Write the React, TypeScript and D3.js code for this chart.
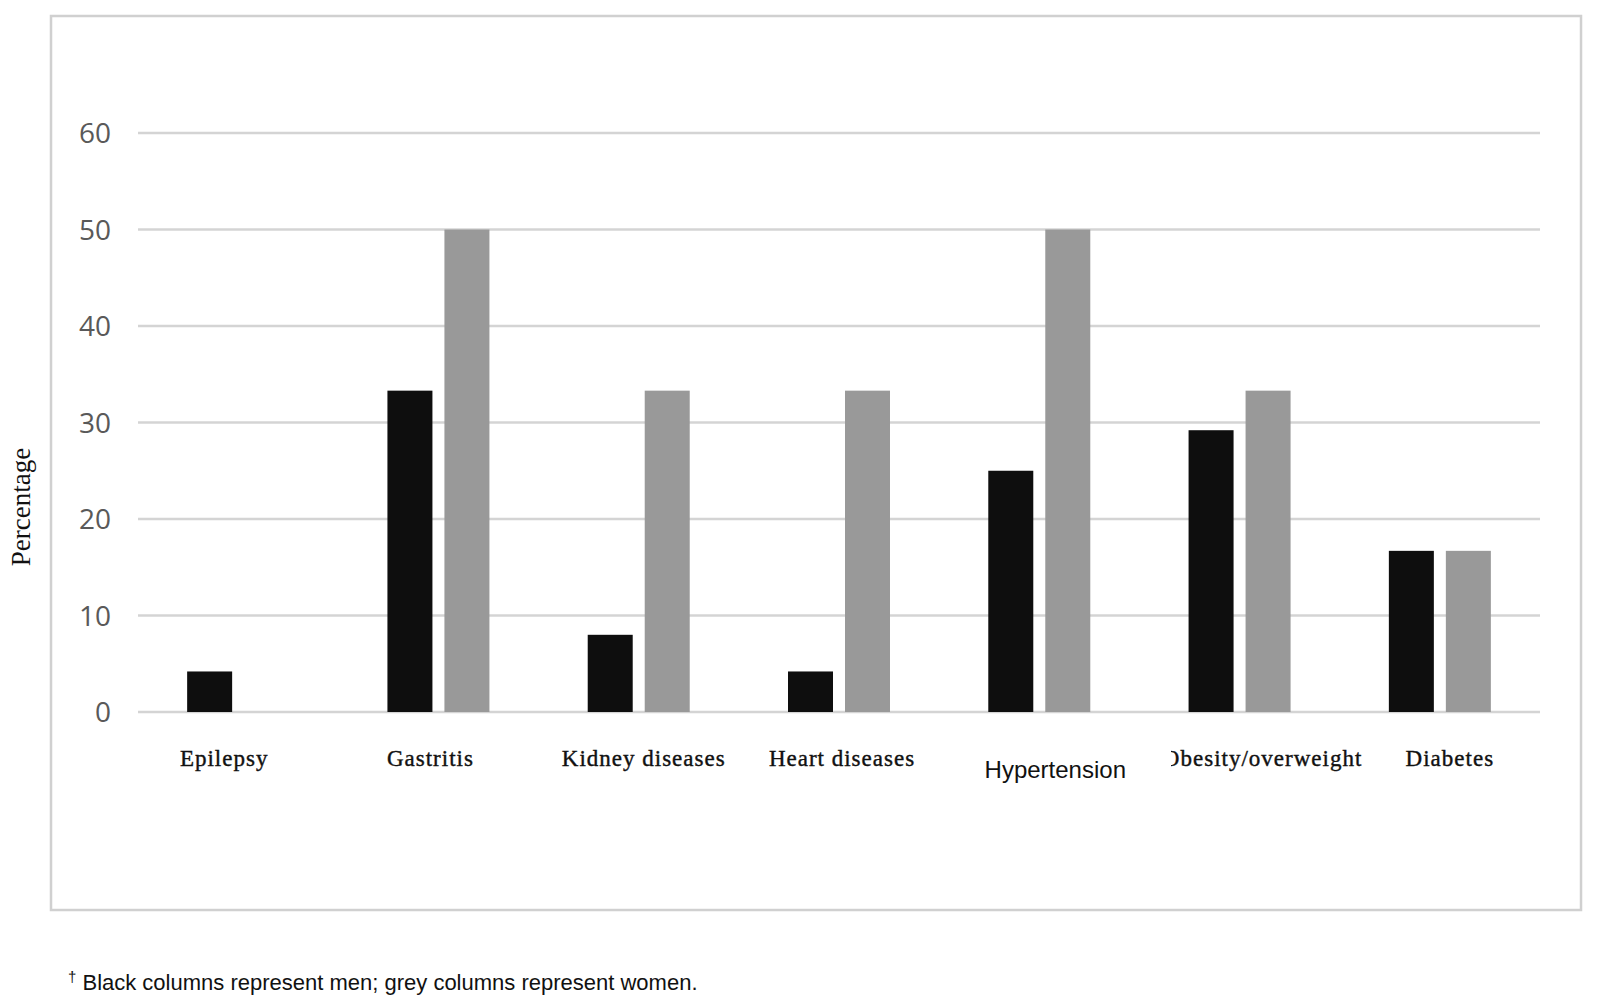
import React from "react";
import * as d3 from "d3";

const categories = ["Epilepsy", "Gastritis", "Kidney diseases", "Heart diseases", "Hypertension", "Obesity/overweight", "Diabetes"];
const men = [4.2, 33.3, 8.0, 4.2, 25.0, 29.2, 16.7];
const women = [0, 50.0, 33.3, 33.3, 50.0, 33.3, 16.7];
const yTicks = [0, 10, 20, 30, 40, 50, 60];
const series = ["men", "women"];

// layout
const W = 1600, H = 1003;
const plotLeft = 138, plotRight = 1540, plotTop = 133, plotBottom = 712;
const labelDx = [-14, -8, 5, 3, 16, 23, 10];

export default function App() {
  const x0 = d3.scaleBand<string>().domain(categories).range([plotLeft, plotRight]).padding(0);
  const groupW = 102;
  const x1 = d3.scaleBand<string>().domain(series).range([0, groupW]).paddingInner(12 / 57).paddingOuter(0);
  const y = d3.scaleLinear().domain([0, 60]).range([plotBottom, plotTop]);
  const off = (x0.bandwidth() - groupW) / 2;
  const colors: Record<string, string> = { men: "#0e0e0e", women: "#999999" };
  const values: Record<string, number[]> = { men, women };

  return (
    <svg width={W} height={H} style={{ position: "absolute", left: 0, top: 0, background: "#fff" }}>
      <rect x={0} y={0} width={W} height={H} fill="#fff" />
      <rect x={51} y={16} width={1530} height={894} fill="none" stroke="#d0d0d0" strokeWidth={2.5} />
      {yTicks.map((t) => (
        <g key={t}>
          <line x1={plotLeft} x2={plotRight} y1={y(t)} y2={y(t)} stroke="#d4d4d4" strokeWidth={2.5} />
          <text x={111} y={y(t)} dy="0.36em" textAnchor="end" fontFamily="'Open Sans', 'Liberation Sans', sans-serif" fontSize={28} fill="#595959">{t}</text>
        </g>
      ))}
      {categories.map((c, i) => (
        <g key={c}>
          {series.map((s) => {
            const v = values[s][i];
            if (!v) return null;
            return (
              <rect key={s} x={(x0(c) as number) + off + (x1(s) as number)} y={y(v)} width={x1.bandwidth()} height={y(0) - y(v)} fill={colors[s]} />
            );
          })}
        </g>
      ))}
      <defs>
        <clipPath id="obClip">
          <rect x={1171} y={700} width={300} height={100} />
        </clipPath>
      </defs>
      {categories.map((c, i) => {
        const cx = (x0(c) as number) + x0.bandwidth() / 2 + labelDx[i];
        if (c === "Hypertension") {
          return (
            <text key={c} x={cx} y={778} textAnchor="middle" fontFamily="'Liberation Sans', Arial, sans-serif" fontSize={24} fill="#111">{c}</text>
          );
        }
        return (
          <text key={c} x={cx} y={766} textAnchor="middle" fontFamily="'Liberation Serif', 'Times New Roman', serif" fontSize={23} letterSpacing={1} fill="#111" stroke="#111" strokeWidth={0.4} clipPath={c === "Obesity/overweight" ? "url(#obClip)" : undefined}>{c}</text>
        );
      })}
      <text transform={`translate(30, 507) rotate(-90)`} textAnchor="middle" fontFamily="'Liberation Serif', 'Times New Roman', serif" fontSize={27} fill="#111">Percentage</text>
      <text x={68} y={990} fontFamily="'Liberation Sans', Arial, sans-serif" fontSize={22} fill="#111">
        <tspan fontSize={15} dy={-8}>†</tspan>
        <tspan dy={8}> Black columns represent men; grey columns represent women.</tspan>
      </text>
    </svg>
  );
}
